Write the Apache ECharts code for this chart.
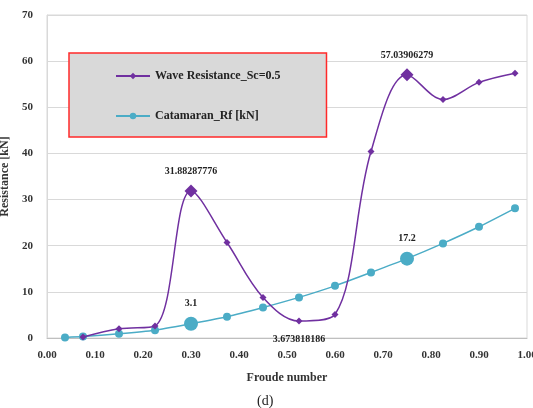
<!DOCTYPE html>
<html>
<head>
<meta charset="utf-8">
<script src="https://cdn.jsdelivr.net/npm/echarts@6/dist/echarts.min.js"></script>
<style>
  html, body { margin: 0; padding: 0; background: #fff; }
  #main { width: 533px; height: 408px; }
</style>
</head>
<body>
<div id="main"></div>
<script>
const froude = [0.0375, 0.075, 0.15, 0.225, 0.30, 0.375, 0.45, 0.525, 0.60, 0.675, 0.75, 0.825, 0.90, 0.975];
const waveResistance = [null, 0.2, 2.0, 2.6, 31.88287776, 20.7, 8.8, 3.673818186, 5.1, 40.4, 57.03906279, 51.7, 55.4, 57.4];
const catamaranRf = [0.1, 0.3, 0.9, 1.7, 3.1, 4.6, 6.6, 8.8, 11.3, 14.2, 17.2, 20.5, 24.1, 28.1];
// labelled points: index -> [label position, enlarged marker]
const waveLabels = { 4: ['top', true], 7: ['bottom', false], 10: ['top', true] };
const rfLabels = { 4: ['top', true], 10: ['top', true] };

const serif = '"Liberation Serif", "DejaVu Serif", serif';
const purple = '#7030a0';
const cyan = '#4bacc6';

function buildData(xs, ys, labels, bigSize) {
  return xs.map(function (x, i) {
    if (ys[i] === null) return [x, null];
    const lab = labels[i];
    if (!lab) return [x, ys[i]];
    const item = {
      value: [x, ys[i]],
      label: {
        show: true,
        position: lab[0],
        distance: lab[0] === 'top' ? 8 : 10,
        formatter: function (p) { return String(p.value[1]); },
        fontFamily: serif,
        fontWeight: 'bold',
        fontSize: 10,
        color: '#222'
      }
    };
    if (lab[1]) item.symbolSize = bigSize;
    return item;
  });
}

const chart = echarts.init(document.getElementById('main'));
chart.setOption({
  animation: false,
  backgroundColor: '#fff',
  title: {
    text: '(d)',
    left: 257,
    bottom: 0,
    padding: [0, 0, 0, 0],
    textStyle: { fontFamily: serif, fontWeight: 'normal', fontSize: 14, color: '#222' }
  },
  legend: {
    orient: 'vertical',
    left: 69,
    top: 53,
    padding: [17, 46, 15, 46],
    itemGap: 28,
    itemWidth: 34,
    itemHeight: 8,
    backgroundColor: '#d9d9d9',
    borderColor: '#ff2a2a',
    borderWidth: 1.5,
    textStyle: { fontFamily: serif, fontWeight: 'bold', fontSize: 12, color: '#222' },
    data: ['Wave Resistance_Sc=0.5', 'Catamaran_Rf [kN]']
  },
  grid: {
    left: 47, right: 6, top: 15, bottom: 70,
    containLabel: false,
    outerBoundsMode: 'none',
    show: true, borderColor: '#d9d9d9', borderWidth: 1
  },
  xAxis: {
    type: 'value',
    min: 0, max: 1, interval: 0.1,
    name: 'Froude number',
    nameLocation: 'middle',
    nameGap: 34,
    nameTextStyle: { fontFamily: serif, fontWeight: 'bold', fontSize: 12, color: '#333' },
    axisLine: { lineStyle: { color: '#bfbfbf' } },
    axisTick: { show: false },
    splitLine: { show: false },
    axisLabel: {
      margin: 12,
      formatter: function (v) { return v.toFixed(2); },
      fontFamily: serif, fontWeight: 'bold', fontSize: 11, color: '#333'
    }
  },
  yAxis: {
    type: 'value',
    min: 0, max: 70, interval: 10,
    name: 'Resistance [kN]',
    nameLocation: 'middle',
    nameRotate: 90,
    nameGap: 30,
    nameTextStyle: { fontFamily: serif, fontWeight: 'bold', fontSize: 12, color: '#333' },
    axisLine: { show: true, lineStyle: { color: '#d9d9d9' } },
    axisTick: { show: false },
    splitLine: { lineStyle: { color: '#d9d9d9' } },
    axisLabel: {
      margin: 14,
      fontFamily: serif, fontWeight: 'bold', fontSize: 11, color: '#333'
    }
  },
  series: [
    {
      name: 'Wave Resistance_Sc=0.5',
      type: 'line',
      smooth: 0.35,
      symbol: 'diamond',
      symbolSize: 7,
      color: purple,
      lineStyle: { width: 1.5, color: purple },
      data: buildData(froude, waveResistance, waveLabels, 13),
      z: 3
    },
    {
      name: 'Catamaran_Rf [kN]',
      type: 'line',
      smooth: 0.2,
      symbol: 'circle',
      symbolSize: 8,
      color: cyan,
      lineStyle: { width: 1.5, color: cyan },
      data: buildData(froude, catamaranRf, rfLabels, 14),
      z: 2
    }
  ]
});
</script>
</body>
</html>
